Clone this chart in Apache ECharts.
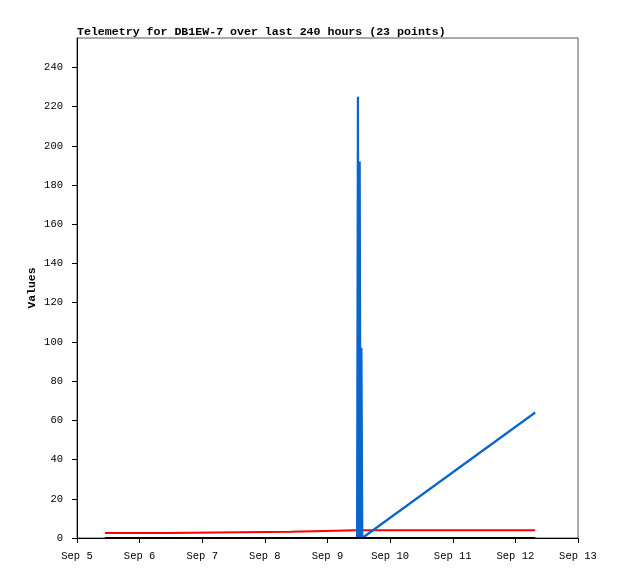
<!DOCTYPE html>
<html>
<head>
<meta charset="utf-8">
<script src="https://cdn.jsdelivr.net/npm/echarts@6/dist/echarts.min.js"></script>
<style>
html,body{margin:0;padding:0;background:#fff;}
#chart{width:618px;height:579px;}
</style>
</head>
<body>
<div id="chart"></div>
<script>
// Data (times are UTC, month-day hour:minute)
var times = ["09-05 10:42","09-06 10:40","09-06 11:00","09-08 10:00","09-08 10:20",
             "09-09 11:20","09-09 11:40","09-09 12:00","09-09 12:20","09-09 12:40",
             "09-09 13:00","09-09 13:20","09-12 07:36"];
var blueValues  = [0, 0, 0, 0, 0, 0, 225, 0, 192, 0, 97, 0, 64];
var redValues   = [2.5, 2.5, 3.2, 3.2, 3.9, 3.9, 3.9, 3.9, 3.9, 3.9, 3.9, 3.9, 3.9];
var blackValues = [0, 0, 0, 0, 0, 0, 0, 0, 0, 0, 0, 0, 0];
var xTickLabels = ["Sep 5","Sep 6","Sep 7","Sep 8","Sep 9","Sep 10","Sep 11","Sep 12","Sep 13"];
var yTickValues = [0,20,40,60,80,100,120,140,160,180,200,220,240];
var titleText = "Telemetry for DB1EW-7 over last 240 hours (23 points)";
var yName = "Values";

var YEAR = 2023, DAY = 86400000;
function toMs(s){
  var m = +s.slice(0,2), d = +s.slice(3,5), h = +s.slice(6,8), mi = +s.slice(9,11);
  return Date.UTC(YEAR, m-1, d, h, mi);
}
var xMin = Date.UTC(YEAR, 8, 5);
var xMax = xMin + (xTickLabels.length-1)*DAY;
var xTickValues = xTickLabels.map(function(_,i){return xMin + i*DAY;});
function pairs(vals){ return times.map(function(t,i){return [toMs(t), vals[i]];}); }

var font = "'Liberation Mono','DejaVu Sans Mono',monospace";
var chart = echarts.init(document.getElementById('chart'), null, {renderer:'canvas'});
chart.setOption({
  animation:false,
  backgroundColor:'#fff',
  title:{
    text:titleText, left:77, top:26, padding:0,
    textStyle:{fontFamily:font, fontSize:11.6, fontWeight:'bold', color:'#000'}
  },
  grid:{left:77, right:40, top:38, bottom:41, show:true, borderColor:'#555', borderWidth:1, backgroundColor:'transparent'},
  xAxis:{
    type:'value', min:xMin, max:xMax, interval:DAY,
    axisLine:{show:true, onZero:false, lineStyle:{color:'#000', width:1}},
    axisTick:{show:true, inside:false, length:5, customValues:xTickValues, lineStyle:{color:'#000'}},
    axisLabel:{customValues:xTickValues, margin:13, fontFamily:font, fontSize:10.5, color:'#000',
      formatter:function(v){ var i=Math.round((v-xMin)/DAY); return xTickLabels[i]||''; }},
    splitLine:{show:false}
  },
  yAxis:{
    type:'value', min:0, max:255, interval:20,
    name:yName, nameLocation:'middle', nameRotate:90, nameGap:39, nameMoveOverlap:false,
    nameTextStyle:{fontFamily:font, fontSize:11.4, fontWeight:'bold', color:'#000'},
    axisLine:{show:true, lineStyle:{color:'#000', width:1}},
    axisTick:{show:true, inside:false, length:5, customValues:yTickValues, lineStyle:{color:'#000'}},
    axisLabel:{customValues:yTickValues, margin:14, fontFamily:font, fontSize:10.5, color:'#000'},
    splitLine:{show:false}
  },
  series:[
    {type:'line', data:pairs(redValues), showSymbol:false, lineStyle:{color:'#ff0000', width:2}, itemStyle:{color:'#ff0000'}},
    {type:'line', data:pairs(blueValues), showSymbol:false, lineStyle:{color:'#0a66cc', width:2.2}, itemStyle:{color:'#0a66cc'}},
    {type:'line', data:pairs(blackValues), showSymbol:false, clip:false, z:5, lineStyle:{color:'#000000', width:2}, itemStyle:{color:'#000'}}
  ]
});
</script>
</body>
</html>
